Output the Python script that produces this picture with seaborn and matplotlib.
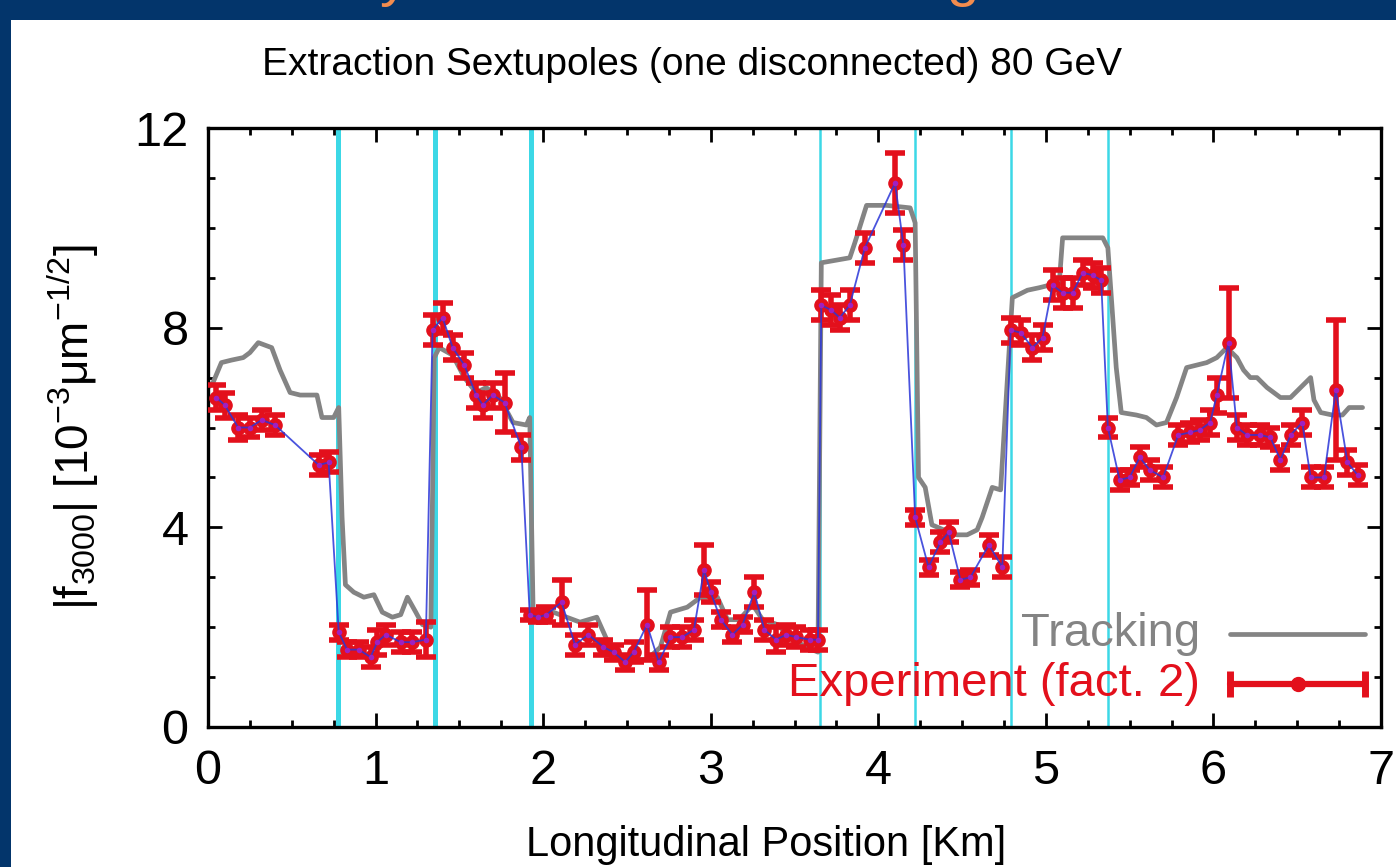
import numpy as np
import pandas as pd
import matplotlib
matplotlib.use("Agg")
import matplotlib.pyplot as plt
from matplotlib.patches import Rectangle
from matplotlib.ticker import MultipleLocator
import seaborn as sns

# tracking curve (grey)
track_x = [0.0, 0.03, 0.08, 0.14, 0.21, 0.25, 0.30, 0.38, 0.43, 0.49, 0.55, 0.65, 0.68, 0.75, 0.78,
           0.80, 0.82, 0.87, 0.93, 0.99, 1.04, 1.10, 1.15, 1.19, 1.24, 1.28, 1.33, 1.35, 1.38, 1.46,
           1.53, 1.60, 1.66, 1.74, 1.82, 1.90, 1.92, 1.94, 2.06, 2.14, 2.22, 2.32, 2.38, 2.44, 2.50,
           2.62, 2.70, 2.76, 2.86, 2.94, 3.04, 3.10, 3.17, 3.25, 3.31, 3.40, 3.47, 3.57, 3.64, 3.66,
           3.83, 3.86, 3.93, 4.05, 4.19, 4.22, 4.24, 4.28, 4.32, 4.39, 4.47, 4.53, 4.59, 4.62, 4.68,
           4.73, 4.80, 4.89, 4.96, 5.08, 5.10, 5.34, 5.37, 5.42, 5.45, 5.54, 5.60, 5.66, 5.72, 5.78,
           5.84, 5.90, 5.96, 6.02, 6.08, 6.14, 6.18, 6.22, 6.26, 6.32, 6.40, 6.46, 6.52, 6.58, 6.60,
           6.64, 6.71, 6.77, 6.81, 6.89]
track_y = [6.8, 6.9, 7.3, 7.35, 7.4, 7.5, 7.7, 7.6, 7.15, 6.7, 6.65, 6.65, 6.2, 6.2, 6.4,
           4.2, 2.85, 2.7, 2.6, 2.65, 2.3, 2.2, 2.25, 2.6, 2.3, 2.05, 2.0, 7.4, 7.6, 7.45,
           7.0, 6.7, 6.8, 6.6, 6.1, 6.05, 6.2, 2.35, 2.3, 2.2, 2.1, 2.2, 1.75, 1.5, 1.35,
           1.35, 1.6, 2.3, 2.4, 2.6, 2.6, 2.15, 2.15, 2.45, 2.15, 2.05, 1.8, 1.6, 1.5, 9.3,
           9.4, 9.7, 10.45, 10.45, 10.4, 10.1, 5.0, 4.8, 4.05, 3.95, 3.85, 3.85, 3.95, 4.2, 4.8,
           4.75, 8.6, 8.75, 8.8, 8.9, 9.8, 9.8, 9.6, 7.2, 6.3, 6.25, 6.2, 6.05, 6.1, 6.6,
           7.2, 7.25, 7.3, 7.4, 7.6, 7.4, 7.15, 7.0, 7.0, 6.8, 6.6, 6.6, 6.8, 7.0, 6.55,
           6.3, 6.25, 6.25, 6.4, 6.4]

# experiment (fact. 2), red points with error bars
exp_x = [0.05, 0.10, 0.18, 0.25, 0.32, 0.40, 0.66, 0.72, 0.78, 0.83, 0.90, 0.97, 1.01, 1.06, 1.15,
         1.22, 1.30, 1.34, 1.40, 1.46, 1.53, 1.60, 1.64, 1.70, 1.77, 1.87, 1.92, 1.97, 2.02, 2.11,
         2.19, 2.27, 2.36, 2.42, 2.49, 2.54, 2.62, 2.69, 2.76, 2.83, 2.90, 2.96, 3.00, 3.06, 3.13,
         3.19, 3.26, 3.32, 3.39, 3.45, 3.51, 3.59, 3.64, 3.66, 3.72, 3.77, 3.83, 3.92, 4.10, 4.15,
         4.22, 4.30, 4.37, 4.42, 4.49, 4.55, 4.66, 4.74, 4.79, 4.85, 4.92, 4.98, 5.04, 5.10, 5.16,
         5.22, 5.28, 5.33, 5.37, 5.44, 5.50, 5.56, 5.62, 5.70, 5.79, 5.86, 5.92, 5.98, 6.02, 6.09,
         6.14, 6.20, 6.28, 6.34, 6.40, 6.46, 6.53, 6.58, 6.66, 6.73, 6.80, 6.86]
exp_y = [6.6, 6.45, 6.0, 6.0, 6.15, 6.05, 5.25, 5.3, 1.9, 1.55, 1.55, 1.4, 1.7, 1.85, 1.7,
         1.7, 1.75, 7.95, 8.2, 7.6, 7.25, 6.65, 6.45, 6.65, 6.5, 5.6, 2.25, 2.2, 2.25, 2.5,
         1.65, 1.85, 1.6, 1.5, 1.3, 1.5, 2.05, 1.3, 1.8, 1.8, 1.95, 3.15, 2.7, 2.15, 1.85,
         2.05, 2.7, 1.95, 1.75, 1.85, 1.8, 1.75, 1.75, 8.45, 8.35, 8.2, 8.45, 9.6, 10.9, 9.65,
         4.2, 3.2, 3.7, 3.9, 2.95, 3.0, 3.65, 3.2, 7.95, 7.9, 7.6, 7.8, 8.85, 8.7, 8.7,
         9.1, 9.05, 8.95, 6.0, 4.95, 5.0, 5.4, 5.15, 5.0, 5.85, 5.9, 5.95, 6.1, 6.65, 7.7,
         6.0, 5.85, 5.85, 5.8, 5.35, 5.85, 6.1, 5.0, 5.0, 6.75, 5.3, 5.05]
exp_err = [0.25, 0.25, 0.25, 0.2, 0.2, 0.2, 0.2, 0.2, 0.15, 0.15, 0.15, 0.2, 0.25, 0.2, 0.2,
           0.2, 0.35, 0.3, 0.3, 0.25, 0.25, 0.25, 0.25, 0.25, 0.6, 0.25, 0.1, 0.1, 0.15, 0.45,
           0.2, 0.2, 0.15, 0.15, 0.15, 0.2, 0.7, 0.15, 0.2, 0.2, 0.2, 0.5, 0.2, 0.15, 0.15,
           0.15, 0.3, 0.2, 0.25, 0.2, 0.2, 0.2, 0.2, 0.3, 0.3, 0.25, 0.3, 0.3, 0.6, 0.3,
           0.15, 0.15, 0.2, 0.2, 0.15, 0.15, 0.2, 0.2, 0.25, 0.25, 0.25, 0.25, 0.3, 0.3, 0.3,
           0.25, 0.25, 0.25, 0.2, 0.2, 0.15, 0.2, 0.2, 0.2, 0.2, 0.2, 0.2, 0.25, 0.35, 1.1,
           0.25, 0.2, 0.2, 0.2, 0.2, 0.2, 0.25, 0.2, 0.2, 1.4, 0.25, 0.2]

# sextupole positions (cyan lines)
sext_x = [0.776, 1.355, 1.93, 3.65, 4.22, 4.79, 5.37]
sext_lw = [3.6, 3.6, 3.6, 1.8, 1.8, 1.8, 1.8]

NAVY = "#03356b"
GREY = "#848484"
RED = "#e3101c"
BLUE = "#2a35d8"
CYAN = "#3cd8e6"

sns.set_theme(style="ticks")
plt.rcParams["font.family"] = ["Liberation Sans", "DejaVu Sans"]
plt.rcParams["mathtext.fontset"] = "custom"
plt.rcParams["mathtext.rm"] = "Liberation Sans"
plt.rcParams["mathtext.it"] = "Liberation Sans:italic"
plt.rcParams["text.color"] = "black"
plt.rcParams["axes.labelcolor"] = "black"

fig = plt.figure(figsize=(13.96, 8.67), dpi=100, facecolor=NAVY)
# cut-off slide title above the white panel
fig.text(395 / 1396, 1 + 5 / 867, "y", color="#f28c4e", fontsize=42, ha="center",
         va="baseline", zorder=-3)
fig.text(963 / 1396, 1 + 5 / 867, "g", color="#f28c4e", fontsize=42, ha="center",
         va="baseline", zorder=-3)
fig.patches.append(Rectangle((11 / 1396, 0), 1, (867 - 20) / 867, transform=fig.transFigure,
                             facecolor="white", edgecolor="none", zorder=-1))

ax = fig.add_axes([208 / 1396, 1 - 727 / 867, (1381 - 208) / 1396, (727 - 128) / 867])
ax.set_facecolor("white")

for xs, lw in zip(sext_x, sext_lw):
    ax.axvline(xs, color=CYAN, lw=lw, zorder=1)

track = pd.DataFrame({"x": track_x, "y": track_y})
sns.lineplot(data=track, x="x", y="y", ax=ax, color=GREY, lw=3.4, sort=False,
             estimator=None, zorder=2)

ax.errorbar(exp_x, exp_y, yerr=exp_err, fmt="o", color=RED, ms=9.5, elinewidth=4,
            capsize=7.5, capthick=4, zorder=3)
exp = pd.DataFrame({"x": exp_x, "y": exp_y})
sns.lineplot(data=exp, x="x", y="y", ax=ax, color=BLUE, lw=1.3, sort=False,
             estimator=None, alpha=0.85, zorder=4)
ax.scatter(exp_x, exp_y, s=16, color="#a020c0", zorder=5, linewidths=0)

ax.set_xlim(0, 7)
ax.set_ylim(0, 12)
ax.xaxis.set_major_locator(MultipleLocator(1))
ax.xaxis.set_minor_locator(MultipleLocator(0.25))
ax.yaxis.set_major_locator(MultipleLocator(4))
ax.yaxis.set_minor_locator(MultipleLocator(1))
ax.tick_params(which="both", direction="in", top=True, right=True, width=2, colors="black")
ax.tick_params(which="major", length=10, labelsize=35)
ax.tick_params(which="minor", length=5)
ax.tick_params(axis="x", which="major", pad=16)
ax.tick_params(axis="y", which="major", pad=14)
for s in ax.spines.values():
    s.set_linewidth(2.4)
    s.set_color("black")

ax.set_title("Extraction Sextupoles (one disconnected) 80 GeV", fontsize=28, pad=38, x=0.413)
ax.set_xlabel("Longitudinal Position [Km]", fontsize=30)
ax.xaxis.set_label_coords(0.476, -0.163)
ax.set_ylabel(r"$|\mathrm{f}_{3000}|\ [10^{-3}\mathrm{\mu m}^{-1/2}]$", fontsize=33, labelpad=24)

# gnuplot-style key, text right aligned next to the sample
ax.text(0.846, 0.155, "Tracking", transform=ax.transAxes, ha="right", va="center",
        fontsize=34, color=GREY)
ax.plot([0.871, 0.986], [0.155, 0.155], transform=ax.transAxes, color=GREY, lw=3.4)
ax.text(0.846, 0.072, "Experiment (fact. 2)", transform=ax.transAxes, ha="right",
        va="center", fontsize=34, color=RED)
ax.plot([0.871, 0.986], [0.072, 0.072], transform=ax.transAxes, color=RED, lw=4.5)
ax.plot([0.871, 0.986], [0.072, 0.072], transform=ax.transAxes, ls="none", marker="|",
        ms=19, mew=5, color=RED)
ax.plot([0.929], [0.072], transform=ax.transAxes, marker="o", ms=10, color=RED)

fig.savefig("out.png", dpi=100, facecolor=NAVY)
